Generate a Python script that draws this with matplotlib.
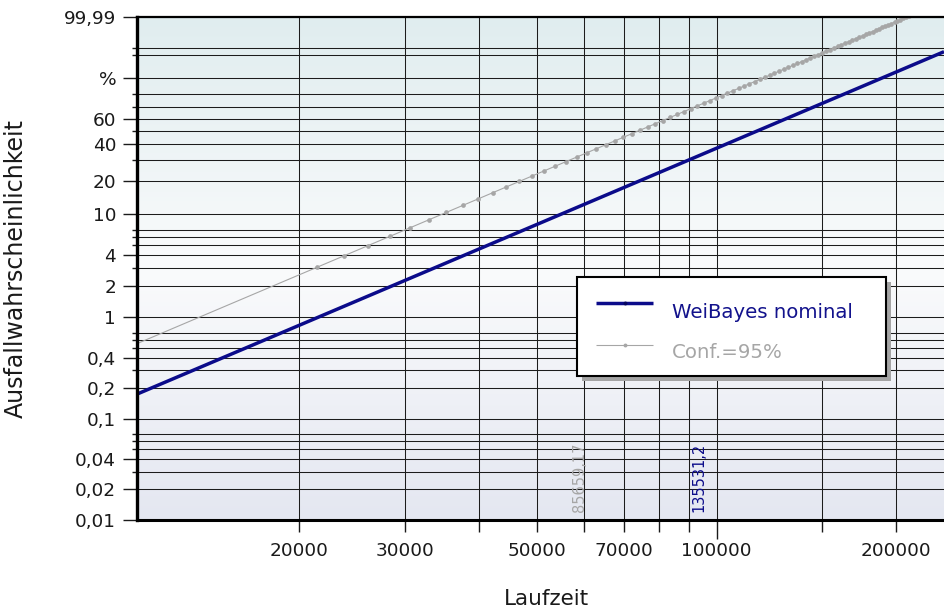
"""Weibull-Wahrscheinlichkeitsnetz: WeiBayes-Gerade mit 95%-Vertrauensgrenze."""

import matplotlib

matplotlib.use("Agg")
import matplotlib.pyplot as plt
import numpy as np
from matplotlib.colors import LinearSegmentedColormap
from matplotlib.lines import Line2D
from matplotlib.patches import Rectangle
from matplotlib.ticker import NullLocator, NullFormatter
import matplotlib.transforms as mtransforms

# WeiBayes: angenommene Formparameter, charakteristische Lebensdauer
series_names = ["WeiBayes nominal", "Conf.=95%"]
eta_values = [135531.2, 85659.17]
eta_labels = ["135531,2", "85659,17"]
beta_values = [2.5, 2.5]
series_colors = ["#0b0b8a", "#a6a6a6"]
series_widths = [2.5, 0.8]
show_markers = [False, True]

# Stützstellen der Punktmarker (linear in der Laufzeit)
marker_start = 21440
marker_step = 2300

# Laufzeit-Achse
x_limits = (10690, 240300)
x_ticks = [20000, 30000, 40000, 50000, 60000, 70000, 80000, 90000,
           100000, 150000, 200000]
x_tick_labels = ["20000", "30000", "", "50000", "", "70000", "", "",
                 "100000", "", "200000"]

# Ausfallwahrscheinlichkeit in %
y_limits = (0.01, 99.99)
y_major = [0.01, 0.02, 0.04, 0.1, 0.2, 0.4, 1, 2, 4, 10, 20, 40, 60, 90, 99.99]
y_major_labels = ["0,01", "0,02", "0,04", "0,1", "0,2", "0,4", "1", "2", "4",
                  "10", "20", "40", "60", "%", "99,99"]
y_minor = [0.03, 0.05, 0.06, 0.07, 0.3, 0.5, 0.6, 0.7, 3, 5, 6, 7,
           30, 50, 70, 80, 98, 99]

W, H = 944, 610


def _px(x0, y0, x1, y1):
    """Pixelrechteck (von oben gemessen) -> Figurenkoordinaten."""
    return [x0 / W, 1 - y1 / H, (x1 - x0) / W, (y1 - y0) / H]


def _wb_fwd(p):
    p = np.clip(np.asarray(p, dtype=float), 1e-9, 100 - 1e-9)
    return np.log(-np.log1p(-p / 100.0))


def _wb_inv(z):
    return 100.0 * (1.0 - np.exp(-np.exp(np.asarray(z, dtype=float))))


def _weibull_cdf(t, eta, beta):
    return 100.0 * (1.0 - np.exp(-(np.asarray(t) / eta) ** beta))


fig = plt.figure(figsize=(W / 100, H / 100), dpi=100)
rect = _px(137, 17, 944, 520)

# Hintergrundverlauf: oben türkis, Mitte weiß, unten lavendel
bg = fig.add_axes(rect, zorder=0)
cmap = LinearSegmentedColormap.from_list(
    "bg", [(0.0, "#e4e7f1"), (0.5, "#fafbfc"), (1.0, "#e0edef")])
bg.imshow(np.linspace(0, 1, 256).reshape(-1, 1), cmap=cmap, aspect="auto",
          origin="lower", extent=[0, 1, 0, 1])
bg.axis("off")

ax = fig.add_axes(rect, zorder=1)
ax.patch.set_visible(False)
ax.set_xscale("log")
ax.set_yscale("function", functions=(_wb_fwd, _wb_inv))
ax.set_xlim(*x_limits)
ax.set_ylim(*y_limits)

t_line = np.geomspace(x_limits[0], x_limits[1], 300)
t_marks = np.arange(marker_start, x_limits[1], marker_step)
for eta, beta, color, lw, dots in zip(eta_values, beta_values, series_colors,
                                      series_widths, show_markers):
    ax.plot(t_line, _weibull_cdf(t_line, eta, beta), color=color, lw=lw,
            zorder=3, solid_capstyle="butt")
    if dots:
        ax.plot(t_marks, _weibull_cdf(t_marks, eta, beta), ls="none",
                marker="o", ms=3.4, mec="none", mfc=color, zorder=3)

# Achsen, Ticks und Gitter
ax.set_xticks(x_ticks)
ax.set_xticklabels(x_tick_labels)
ax.xaxis.set_minor_locator(NullLocator())
ax.xaxis.set_minor_formatter(NullFormatter())
ax.set_yticks(y_major)
ax.set_yticklabels(y_major_labels)
ax.set_yticks(y_minor, minor=True)
ax.yaxis.set_minor_formatter(NullFormatter())

ax.tick_params(axis="x", which="major", length=8.6, width=1.0, pad=7.5,
               labelsize=13.3, colors="#1a1a1a")
ax.tick_params(axis="y", which="major", length=10, width=1.0, pad=5,
               labelsize=13.3, colors="#1a1a1a")
ax.tick_params(axis="y", which="minor", length=3.6, width=1.0, colors="#1a1a1a")
ax.xaxis.get_major_ticks()[x_ticks.index(100000)].tick1line.set_markersize(13.7)

ax.grid(True, which="both", color="#1c1c1c", lw=0.75)
ax.set_axisbelow(True)
ax.spines["right"].set_visible(False)
ax.spines["left"].set_linewidth(2.4)
ax.spines["bottom"].set_linewidth(2.2)
ax.spines["top"].set_linewidth(1.6)
for side in ("left", "bottom", "top"):
    ax.spines[side].set_zorder(4)

# Kennwerte eta an der Gerade
trans = mtransforms.blended_transform_factory(ax.transData, ax.transAxes)
for eta, label, color in zip(eta_values, eta_labels, series_colors):
    ax.text(eta * 0.688, 0.016, label, transform=trans, rotation=90,
            ha="center", va="bottom", fontsize=10.5, color=color, zorder=3)

fig.text(546 / W, 1 - 599 / H, "Laufzeit", ha="center", va="center",
         fontsize=15.5, color="#1a1a1a")
fig.text(16 / W, 1 - 268 / H, "Ausfallwahrscheinlichkeit", rotation=90,
         ha="center", va="center", fontsize=17, color="#1a1a1a")

# Legende mit Schlagschatten
shadow = Rectangle(_px(582, 282, 891, 381)[:2], 309 / W, 99 / H,
                   transform=fig.transFigure, facecolor="#a4a4a4",
                   edgecolor="none", zorder=5)
box = Rectangle(_px(577, 277, 886, 376)[:2], 309 / W, 99 / H,
                transform=fig.transFigure, facecolor="white",
                edgecolor="black", lw=1.5, zorder=6)
fig.add_artist(shadow)
fig.add_artist(box)
for i, (name, color, lw) in enumerate(zip(series_names, series_colors, series_widths)):
    y_line = 1 - (303 + 42 * i) / H
    y_text = 1 - (312 + 41 * i) / H
    fig.add_artist(Line2D([596 / W, 653 / W], [y_line, y_line], color=color,
                          lw=lw, transform=fig.transFigure, zorder=7,
                          solid_capstyle="butt"))
    fig.add_artist(Line2D([624.5 / W], [y_line], marker="o", ms=2.8,
                          mec="none", mfc=color if i else "#05055e",
                          transform=fig.transFigure, zorder=7))
    fig.text(672 / W, y_text, name, ha="left", va="center", fontsize=14.2,
             color=color if i else "#12128c", zorder=8)

fig.savefig("out.png", dpi=100)
